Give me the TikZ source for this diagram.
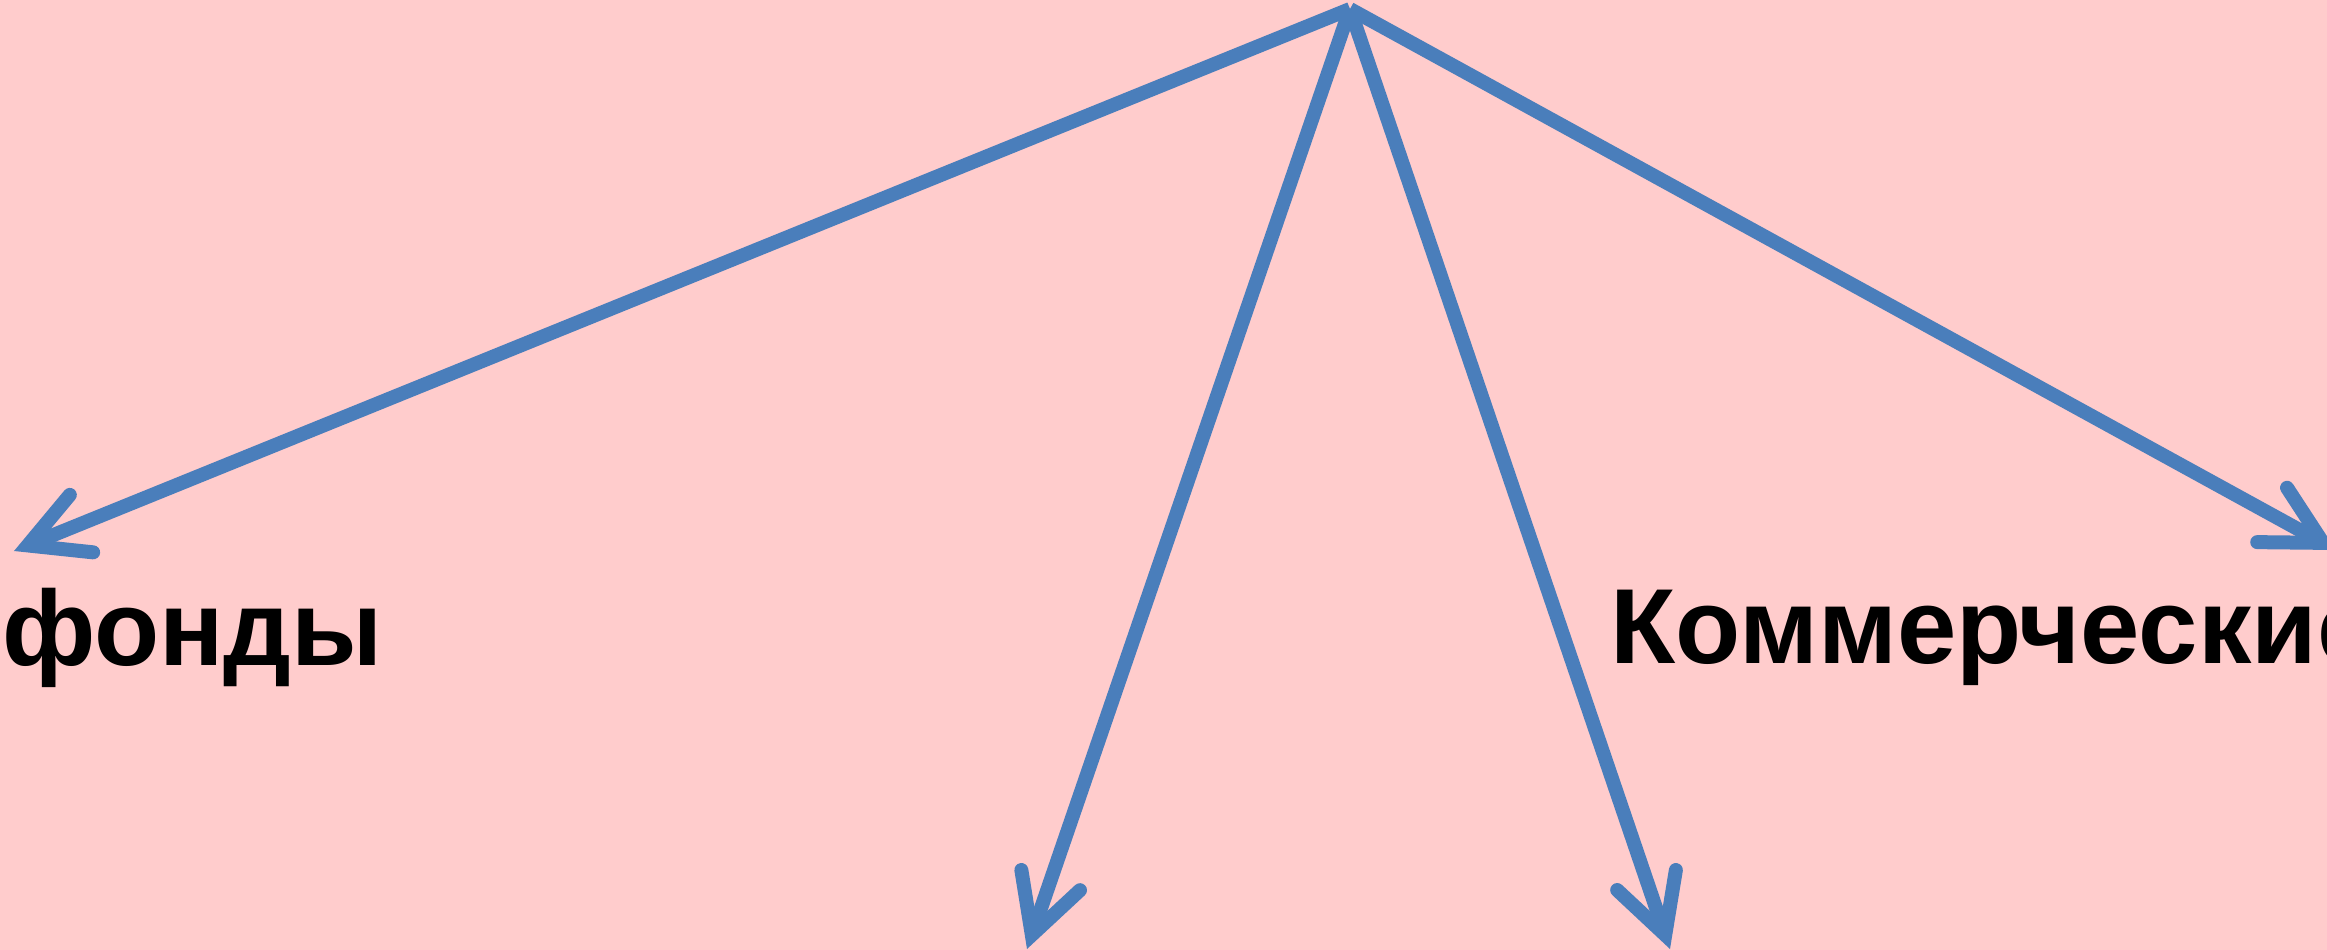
\documentclass[tikz,border=0pt]{standalone}
\usepackage{fontspec}
\setmainfont{Liberation Sans}
\usetikzlibrary{arrows.meta}
\definecolor{arrowblue}{HTML}{4A7EBB}
\definecolor{slidepink}{HTML}{FFCCCC}
\begin{document}
\begin{tikzpicture}[x=1pt, y=-1pt,
    link/.style = {draw=arrowblue, line width=14pt,
      -{Straight Barb[length=58pt, width=62pt, line cap=round, line join=miter]}},
    slidetext/.style = {inner sep=0pt, anchor=base west,
      font=\fontsize{106.7}{118}\selectfont\bfseries}]
  \fill[slidepink] (0,0) rectangle (2327,950);
  \clip (0,0) rectangle (2327,950);
  \coordinate (top) at (1350,9);
  \coordinate (leftend) at (14,551);
  \coordinate (downleft) at (1027,949);
  \coordinate (downright) at (1670,949);
  \coordinate (rightend) at (2336,550);
  \node[slidetext] (funds) at (2,665) {фонды};
  \node[slidetext] (commercial) at (1610,663) {Коммерческие};
  \foreach \target in {leftend, downleft, downright, rightend}
    \draw[link] (top) -- (\target);
\end{tikzpicture}
\end{document}
